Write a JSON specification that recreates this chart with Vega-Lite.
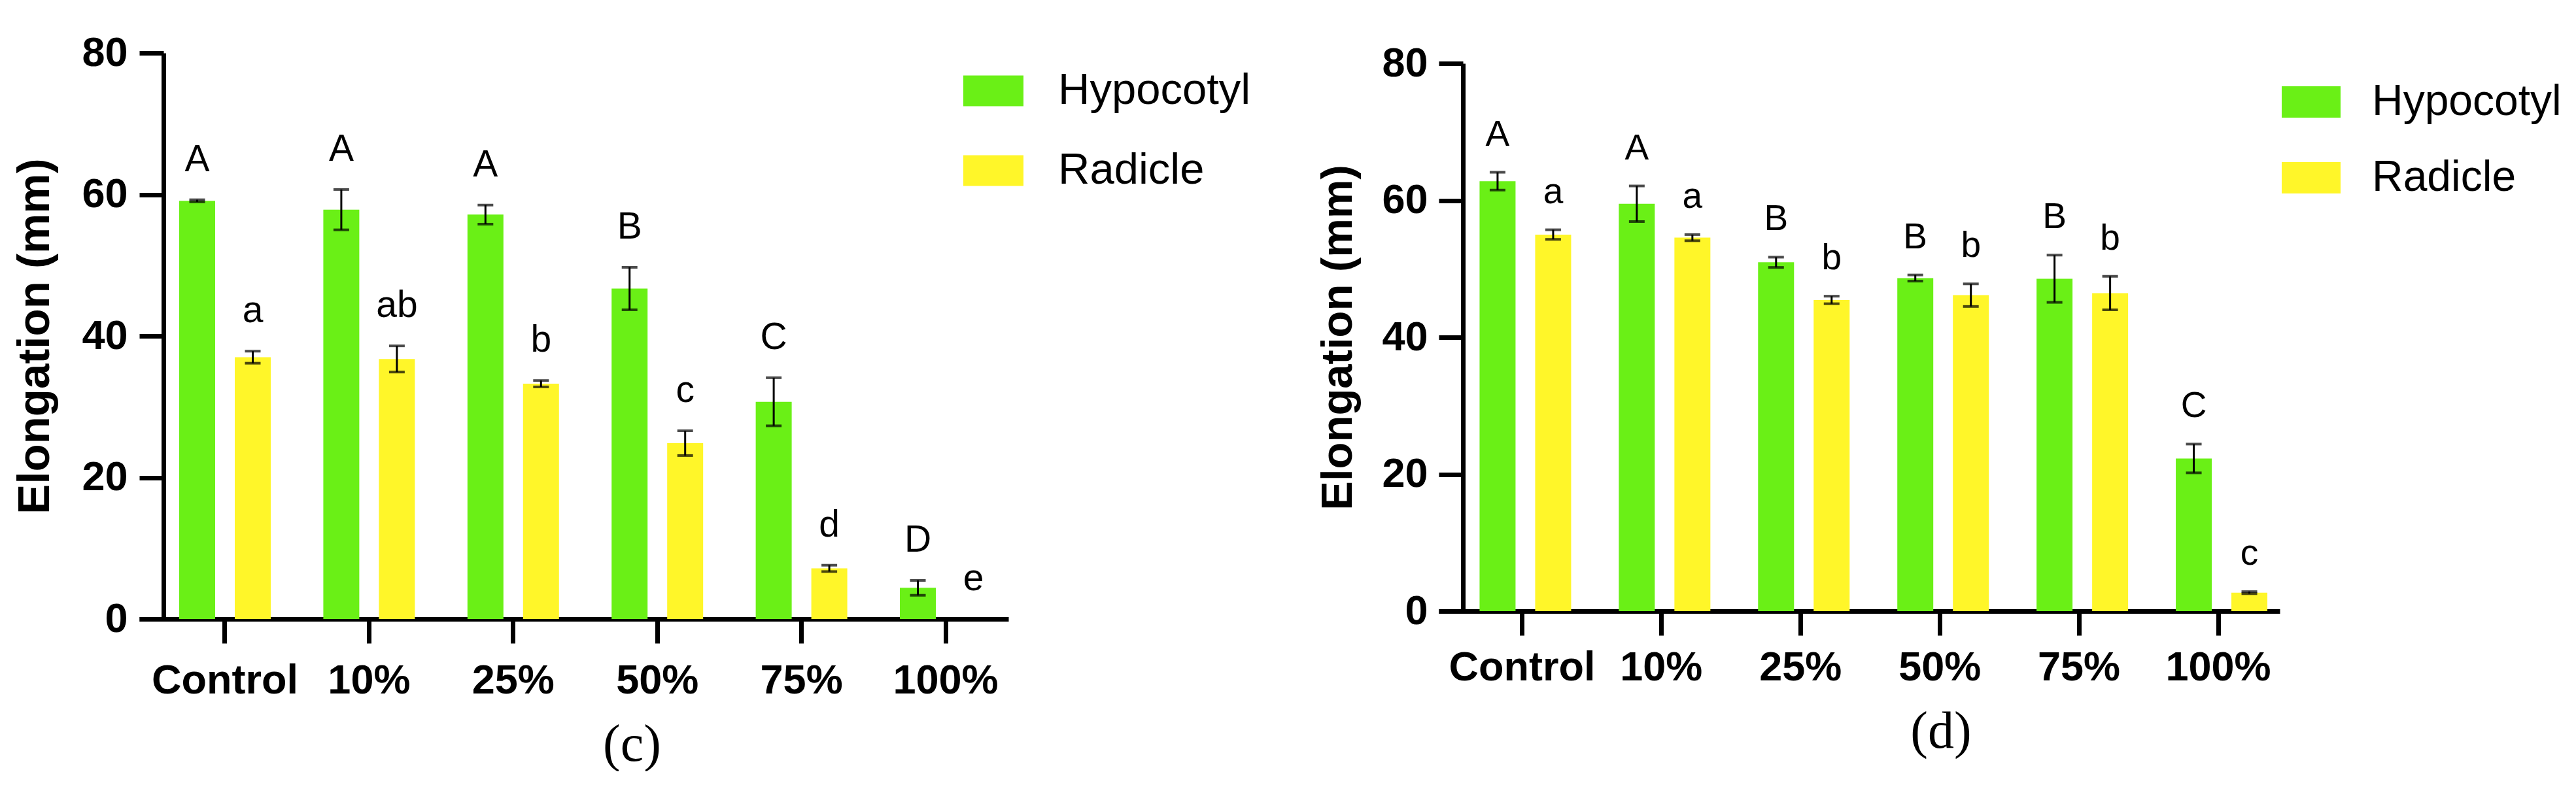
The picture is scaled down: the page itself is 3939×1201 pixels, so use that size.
{
  "$schema": "https://vega.github.io/schema/vega-lite/v6.json",
  "background": "white",
  "padding": {"left": 19, "top": 50, "right": 0, "bottom": 0},
  "spacing": 99,
  "resolve": {"scale": {"color": "independent"}, "legend": {"color": "independent"}},
  "config": {
    "view": {"stroke": null},
    "font": "Liberation Sans",
    "axis": {
      "grid": false,
      "domainColor": "black",
      "domainWidth": 7,
      "tickColor": "black",
      "tickWidth": 7,
      "tickSize": 37,
      "labelColor": "black",
      "labelFont": "Liberation Sans",
      "labelFontWeight": "bold",
      "labelFontSize": 63,
      "labelLimit": 0,
      "titleColor": "black",
      "titleFont": "Liberation Sans",
      "titleFontWeight": "bold",
      "zindex": 1
    },
    "title": {"font": "Liberation Serif", "fontWeight": "normal", "color": "black", "fontSize": 80}
  },
  "hconcat": [
    {
      "width": 1329,
      "height": 866,
      "title": {"text": "(c)", "orient": "bottom", "anchor": "middle", "frame": "bounds", "offset": 28, "dx": 0},
      "data": {
        "values": [
          {"g": "Control", "part": "Hypocotyl", "mean": 59.1, "lo": 58.95, "hi": 59.25, "sig": "A"},
          {"g": "Control", "part": "Radicle", "mean": 37.0, "lo": 36.15, "hi": 37.85, "sig": "a"},
          {"g": "10%", "part": "Hypocotyl", "mean": 57.85, "lo": 55.0, "hi": 60.7, "sig": "A"},
          {"g": "10%", "part": "Radicle", "mean": 36.75, "lo": 34.9, "hi": 38.6, "sig": "ab"},
          {"g": "25%", "part": "Hypocotyl", "mean": 57.15, "lo": 55.8, "hi": 58.5, "sig": "A"},
          {"g": "25%", "part": "Radicle", "mean": 33.25, "lo": 32.8, "hi": 33.7, "sig": "b"},
          {"g": "50%", "part": "Hypocotyl", "mean": 46.7, "lo": 43.7, "hi": 49.7, "sig": "B"},
          {"g": "50%", "part": "Radicle", "mean": 24.85, "lo": 23.1, "hi": 26.6, "sig": "c"},
          {"g": "75%", "part": "Hypocotyl", "mean": 30.7, "lo": 27.3, "hi": 34.1, "sig": "C"},
          {"g": "75%", "part": "Radicle", "mean": 7.15, "lo": 6.7, "hi": 7.6, "sig": "d"},
          {"g": "100%", "part": "Hypocotyl", "mean": 4.4, "lo": 3.35, "hi": 5.45, "sig": "D"},
          {"g": "100%", "part": "Radicle", "mean": 0, "lo": 0, "hi": 0, "sig": "e"}
        ]
      },
      "encoding": {
        "x": {
          "field": "g", "type": "nominal",
          "sort": ["Control", "10%", "25%", "50%", "75%", "100%"],
          "scale": {"paddingInner": 0.2287, "paddingOuter": 0.1293, "align": 0.807},
          "axis": {"title": null, "labelAngle": 0, "labelPadding": 26}
        },
        "xOffset": {
          "field": "part", "type": "nominal",
          "sort": ["Hypocotyl", "Radicle"],
          "scale": {"paddingInner": 0.353, "paddingOuter": 0.1765}
        }
      },
      "layer": [
        {
          "mark": {"type": "bar"},
          "encoding": {
            "y": {
              "field": "mean", "type": "quantitative", "title": "Elongation (mm)",
              "scale": {"domain": [0, 80], "nice": false},
              "axis": {"values": [0, 20, 40, 60, 80], "offset": -37, "labelPadding": 18, "titlePadding": 36, "titleFontSize": 69}
            },
            "color": {
              "field": "part", "type": "nominal",
              "scale": {"domain": ["Hypocotyl", "Radicle"], "range": ["#6af016", "#fff629"]},
              "legend": {
                "title": null, "orient": "none", "legendX": 1260, "legendY": 12, "padding": 0,
                "symbolType": "M-1,-0.511H1V0.511H-1Z", "symbolSize": 8464, "symbolStrokeWidth": 0,
                "labelFont": "Liberation Sans", "labelFontSize": 67, "labelColor": "black",
                "labelOffset": 53, "labelLimit": 1000, "rowPadding": 43
              }
            }
          }
        },
        {
          "transform": [{"filter": "datum.hi > datum.lo"}],
          "mark": {"type": "rule", "color": "black", "strokeWidth": 3},
          "encoding": {
            "y": {"field": "lo", "type": "quantitative", "title": "Elongation (mm)"},
            "y2": {"field": "hi"}
          }
        },
        {
          "transform": [{"filter": "datum.hi > datum.lo"}],
          "mark": {"type": "tick", "color": "black", "thickness": 4, "size": 24},
          "encoding": {"y": {"field": "lo", "type": "quantitative", "title": "Elongation (mm)"}}
        },
        {
          "transform": [{"filter": "datum.hi > datum.lo"}],
          "mark": {"type": "tick", "color": "black", "thickness": 4, "size": 24},
          "encoding": {"y": {"field": "hi", "type": "quantitative", "title": "Elongation (mm)"}}
        },
        {
          "mark": {"type": "text", "font": "Liberation Sans", "fontSize": 57, "color": "black", "baseline": "alphabetic", "dy": -44},
          "encoding": {
            "y": {"field": "hi", "type": "quantitative", "title": "Elongation (mm)"},
            "text": {"field": "sig"}
          }
        }
      ]
    },
    {
      "width": 1286,
      "height": 854,
      "title": {"text": "(d)", "orient": "bottom", "anchor": "middle", "frame": "bounds", "offset": 28, "dx": 3},
      "data": {
        "values": [
          {"g": "Control", "part": "Hypocotyl", "mean": 62.8, "lo": 61.5, "hi": 64.1, "sig": "A"},
          {"g": "Control", "part": "Radicle", "mean": 55.0, "lo": 54.3, "hi": 55.7, "sig": "a"},
          {"g": "10%", "part": "Hypocotyl", "mean": 59.5, "lo": 56.9, "hi": 62.1, "sig": "A"},
          {"g": "10%", "part": "Radicle", "mean": 54.55, "lo": 54.1, "hi": 55.0, "sig": "a"},
          {"g": "25%", "part": "Hypocotyl", "mean": 50.95, "lo": 50.2, "hi": 51.7, "sig": "B"},
          {"g": "25%", "part": "Radicle", "mean": 45.45, "lo": 44.9, "hi": 46.0, "sig": "b"},
          {"g": "50%", "part": "Hypocotyl", "mean": 48.65, "lo": 48.2, "hi": 49.1, "sig": "B"},
          {"g": "50%", "part": "Radicle", "mean": 46.15, "lo": 44.5, "hi": 47.8, "sig": "b"},
          {"g": "75%", "part": "Hypocotyl", "mean": 48.55, "lo": 45.1, "hi": 52.0, "sig": "B"},
          {"g": "75%", "part": "Radicle", "mean": 46.45, "lo": 44.0, "hi": 48.9, "sig": "b"},
          {"g": "100%", "part": "Hypocotyl", "mean": 22.3, "lo": 20.2, "hi": 24.4, "sig": "C"},
          {"g": "100%", "part": "Radicle", "mean": 2.7, "lo": 2.55, "hi": 2.85, "sig": "c"}
        ]
      },
      "encoding": {
        "x": {
          "field": "g", "type": "nominal",
          "sort": ["Control", "10%", "25%", "50%", "75%", "100%"],
          "scale": {"paddingInner": 0.2488, "paddingOuter": 0.1443, "align": 0.772},
          "axis": {"title": null, "labelAngle": 0, "labelPadding": 18}
        },
        "xOffset": {
          "field": "part", "type": "nominal",
          "sort": ["Hypocotyl", "Radicle"],
          "scale": {"paddingInner": 0.3375, "paddingOuter": 0.16875}
        }
      },
      "layer": [
        {
          "mark": {"type": "bar"},
          "encoding": {
            "y": {
              "field": "mean", "type": "quantitative", "title": "Elongation (mm)",
              "scale": {"domain": [0, 80], "nice": false, "range": [854, 16]},
              "axis": {"values": [0, 20, 40, 60, 80], "offset": -37, "labelPadding": 17, "titlePadding": 32, "titleFontSize": 67}
            },
            "color": {
              "field": "part", "type": "nominal",
              "scale": {"domain": ["Hypocotyl", "Radicle"], "range": ["#6af016", "#fff629"]},
              "legend": {
                "title": null, "orient": "none", "legendX": 1289, "legendY": 30, "padding": 0,
                "symbolType": "M-1,-0.533H1V0.533H-1Z", "symbolSize": 8100, "symbolStrokeWidth": 0,
                "labelFont": "Liberation Sans", "labelFontSize": 66, "labelColor": "black",
                "labelOffset": 48, "labelLimit": 1000, "rowPadding": 38
              }
            }
          }
        },
        {
          "transform": [{"filter": "datum.hi > datum.lo"}],
          "mark": {"type": "rule", "color": "black", "strokeWidth": 3},
          "encoding": {
            "y": {"field": "lo", "type": "quantitative", "title": "Elongation (mm)"},
            "y2": {"field": "hi"}
          }
        },
        {
          "transform": [{"filter": "datum.hi > datum.lo"}],
          "mark": {"type": "tick", "color": "black", "thickness": 4, "size": 24},
          "encoding": {"y": {"field": "lo", "type": "quantitative", "title": "Elongation (mm)"}}
        },
        {
          "transform": [{"filter": "datum.hi > datum.lo"}],
          "mark": {"type": "tick", "color": "black", "thickness": 4, "size": 24},
          "encoding": {"y": {"field": "hi", "type": "quantitative", "title": "Elongation (mm)"}}
        },
        {
          "mark": {"type": "text", "font": "Liberation Sans", "fontSize": 55, "color": "black", "baseline": "alphabetic", "dy": -41},
          "encoding": {
            "y": {"field": "hi", "type": "quantitative", "title": "Elongation (mm)"},
            "text": {"field": "sig"}
          }
        }
      ]
    }
  ]
}
